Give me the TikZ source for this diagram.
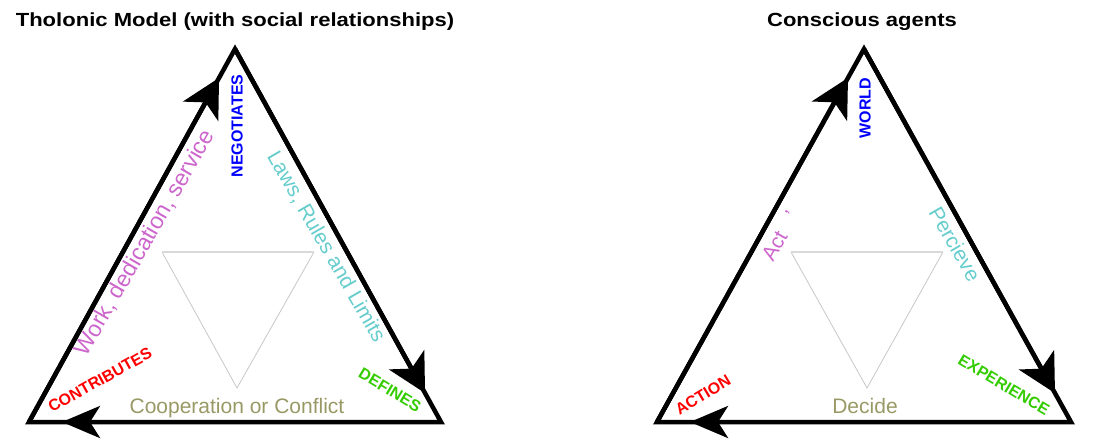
\documentclass[tikz,border=0pt]{standalone}
\usepackage{fontspec}
\setmainfont{Liberation Sans}
\usetikzlibrary{arrows.meta}

\begin{document}
\begin{tikzpicture}[x=1pt, y=-1pt,
		rim/.style={line width=4.5pt, line join=miter},
		rimflow/.style={rim, -{Stealth[length=38pt, width=40pt, inset=10pt]}, shorten >=33pt},
		rimflat/.style={rim, -{Stealth[length=38pt, width=32pt, inset=10pt]}, shorten >=33pt},
		innertop/.style={draw=black!15, line width=2pt},
		innerside/.style={draw=black!22, line width=0.8pt},
		heading/.style={font=\bfseries\fontsize{19}{19}\selectfont, xscale=1.16, anchor=base, inner sep=0},
		capslabel/.style={font=\bfseries\fontsize{16}{16}\selectfont, inner sep=0},
		textlabel/.style={font=\fontsize{21}{21}\selectfont, inner sep=0}]
		\definecolor{sorchid}{HTML}{CC66CC}
		\definecolor{steal}{HTML}{66CCCC}
		\definecolor{solive}{HTML}{999966}
		\definecolor{sgreen}{HTML}{33CC00}
		\useasboundingbox (0,0) rectangle (1103,440);

		% tholonic model
		\node (thtitle) at (235,26) [heading] {Tholonic Model (with social relationships)};
		\coordinate (lb) at (29,422);
		\coordinate (lt) at (235,49);
		\coordinate (lr) at (441,422);
		\coordinate (la) at (162,252);
		\coordinate (lc) at (314,252);
		\coordinate (ld) at (237,388);
		\draw[innerside] (la) -- (ld) -- (lc);
		\draw[innertop] (la) -- (lc);
		\draw[rim] (lb) -- (lt) -- (lr) -- cycle;
		\draw[rimflow] (lb) -- (lt);
		\draw[rimflow] (lt) -- (lr);
		\draw[rimflat] (lr) -- (lb);
		\node (negotiates) at (237,126) [capslabel, rotate=90, text=blue] {NEGOTIATES};
		\node (contributes) at (100,380) [capslabel, rotate=29, text=red] {CONTRIBUTES};
		\node (defines) at (390,390) [capslabel, rotate=-31, text=sgreen] {DEFINES};
		\node (work) at (145,243) [textlabel, font=\fontsize{23}{23}\selectfont, rotate=60, text=sorchid] {Work, dedication, service};
		\node (laws) at (326,247) [textlabel, rotate=-60, text=steal] {Laws, Rules and Limits};
		\node (coop) at (237,413) [textlabel, anchor=base, text=solive] {Cooperation or Conflict};

		% conscious agents
		\node (catitle) at (862,26) [heading] {Conscious agents};
		\coordinate (rb) at (657,422);
		\coordinate (rt) at (864,49);
		\coordinate (rr) at (1071,422);
		\coordinate (ra) at (791,252);
		\coordinate (rc) at (943,252);
		\coordinate (rd) at (867,388);
		\draw[innerside] (ra) -- (rd) -- (rc);
		\draw[innertop] (ra) -- (rc);
		\draw[rim] (rb) -- (rt) -- (rr) -- cycle;
		\draw[rimflow] (rb) -- (rt);
		\draw[rimflow] (rt) -- (rr);
		\draw[rimflat] (rr) -- (rb);
		\node (world) at (865,108) [capslabel, rotate=90, text=blue] {WORLD};
		\node (action) at (703,395) [capslabel, rotate=31, text=red] {ACTION};
		\node (experience) at (1004,385) [capslabel, rotate=-31, text=sgreen] {EXPERIENCE};
		\node (act) at (780,236) [textlabel, rotate=60, text=sorchid] {Act\ \ \ '};
		\node (percieve) at (955,244) [textlabel, rotate=-60, text=steal] {Percieve};
		\node (decide) at (865,413) [textlabel, anchor=base, text=solive] {Decide};
	\end{tikzpicture}
\end{document}
